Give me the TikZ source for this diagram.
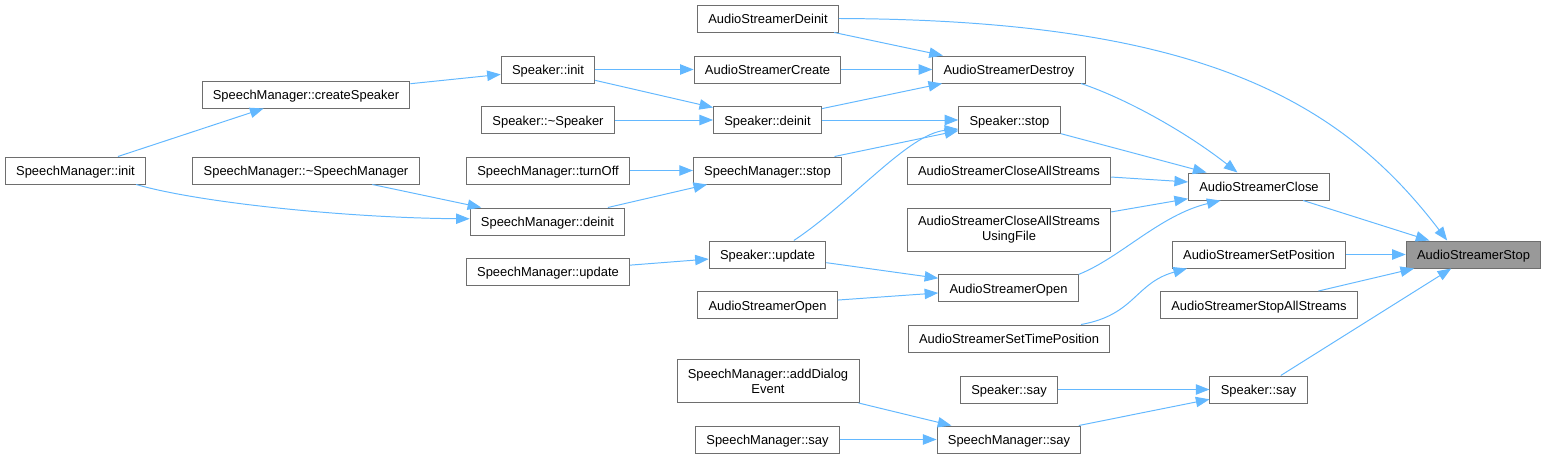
\documentclass[tikz,border=0pt]{standalone}
\usepackage{fontspec}
\setmainfont{Liberation Sans}
\usepackage{xcolor}
\definecolor{callblue}{RGB}{99,184,255}
\definecolor{framegray}{RGB}{110,110,110}
\definecolor{focusgray}{RGB}{153,153,153}
\usepackage{tikz}
\usetikzlibrary{arrows.meta}

\begin{document}
\begin{tikzpicture}[
    x=0.025cm, y=-0.025cm,
    >={Triangle[length=0.34cm, width=0.26cm]},
    font=\fontsize{9.2pt}{10.6pt}\selectfont,
    box/.style={draw=framegray, line width=0.7pt, rectangle, fill=white, minimum height=0.675cm, inner xsep=0.27cm, inner ysep=0.1cm, align=center},
    fn/.style={box, text height=0.93em, text depth=0.214em},
    fnfocus/.style={fn, fill=focusgray},
    fntall/.style={box, minimum height=1.075cm},
    callline/.style={->, draw=callblue, line width=0.7pt}
  ]
  \useasboundingbox (0,0) rectangle (1546,459);

  % Column 1: top level callers
  \node (sminit) at (75.5, 170.5) [fn] {SpeechManager::init};

  % Column 2
  \node (smcreate) at (306, 94.5) [fn] {SpeechManager::createSpeaker};
  \node (smdtor) at (306, 170.5) [fn] {SpeechManager::\textasciitilde SpeechManager};

  % Column 3
  \node (spkinit) at (548, 69.5) [fn] {Speaker::init};
  \node (spkdtor) at (548, 120) [fn] {Speaker::\textasciitilde Speaker};
  \node (smturnoff) at (548, 170.5) [fn] {SpeechManager::turnOff};
  \node (smdeinit) at (547.5, 221.5) [fn] {SpeechManager::deinit};
  \node (smupdate) at (548, 271.5) [fn] {SpeechManager::update};

  % Column 4
  \node (asdeinit) at (768, 18.5) [fn] {AudioStreamerDeinit};
  \node (ascreate) at (767.5, 69.5) [fn] {AudioStreamerCreate};
  \node (spkdeinit) at (767.5, 120) [fn] {Speaker::deinit};
  \node (smstop) at (767.5, 170.5) [fn] {SpeechManager::stop};
  \node (spkupdate) at (767.5, 254.5) [fn] {Speaker::update};
  \node (asopen2) at (767.5, 305) [fn] {AudioStreamerOpen};
  \node (smadddialog) at (768, 381) [fntall] {SpeechManager::addDialog\\Event};
  \node (smsay2) at (767.5, 439.5) [fn] {SpeechManager::say};

  % Column 5
  \node (asdestroy) at (1009, 69.5) [fn] {AudioStreamerDestroy};
  \node (spkstop) at (1009.5, 120) [fn] {Speaker::stop};
  \node (ascloseall) at (1009, 170.5) [fn] {AudioStreamerCloseAllStreams};
  \node (ascloseallfile) at (1009, 229.5) [fntall] {AudioStreamerCloseAllStreams\\UsingFile};
  \node (asopen) at (1008.5, 288) [fn] {AudioStreamerOpen};
  \node (assettime) at (1009, 338.5) [fn] {AudioStreamerSetTimePosition};
  \node (spksay2) at (1009, 389.5) [fn] {Speaker::say};
  \node (smsay) at (1009, 439.5) [fn] {SpeechManager::say};

  % Column 6
  \node (asclose) at (1259, 186.5) [fn] {AudioStreamerClose};
  \node (assetpos) at (1259, 254.5) [fn] {AudioStreamerSetPosition};
  \node (asstopall) at (1259, 305) [fn] {AudioStreamerStopAllStreams};
  \node (spksay) at (1258.5, 389.5) [fn] {Speaker::say};

  % Focus function
  \node (asstop) at (1473.5, 254.5) [fnfocus] {AudioStreamerStop};

  % Call edges, left to right
  \draw[callline] (sminit) -- (smcreate);
  \draw[callline] (sminit.-13) .. controls (200,203) and (350,218) .. (smdeinit.178);
  \draw[callline] (smdtor) -- (smdeinit);
  \draw[callline] (smcreate) -- (spkinit);

  \draw[callline] (spkinit) -- (ascreate);
  \draw[callline] (spkinit) -- (spkdeinit);
  \draw[callline] (spkdtor) -- (spkdeinit);
  \draw[callline] (smturnoff) -- (smstop);
  \draw[callline] (smdeinit) -- (smstop);
  \draw[callline] (smupdate) -- (spkupdate);

  \draw[callline] (asdeinit) -- (asdestroy);
  \draw[callline] (asdeinit.east) .. controls (1200,20) and (1340,100) .. (asstop.152);
  \draw[callline] (ascreate) -- (asdestroy);
  \draw[callline] (spkdeinit) -- (asdestroy);
  \draw[callline] (spkdeinit) -- (spkstop);
  \draw[callline] (smstop) -- (spkstop);
  \draw[callline] (spkupdate.28) .. controls (853,201) and (908,134) .. (spkstop.190);
  \draw[callline] (spkupdate) -- (asopen);
  \draw[callline] (asopen2) -- (asopen);
  \draw[callline] (smadddialog) -- (smsay);
  \draw[callline] (smsay2) -- (smsay);

  \draw[callline] (asdestroy.-11) .. controls (1130,100) and (1190,135) .. (asclose.147);
  \draw[callline] (spkstop) -- (asclose);
  \draw[callline] (ascloseall) -- (asclose);
  \draw[callline] (ascloseallfile) -- (asclose);
  \draw[callline] (asopen.11) .. controls (1120,258) and (1160,215) .. (asclose.200);
  \draw[callline] (assettime.11) .. controls (1135,315) and (1135,283) .. (assetpos.191);
  \draw[callline] (spksay2) -- (spksay);
  \draw[callline] (smsay) -- (spksay);

  \draw[callline] (asclose) -- (asstop);
  \draw[callline] (assetpos) -- (asstop);
  \draw[callline] (asstopall) -- (asstop);
  \draw[callline] (spksay) -- (asstop);

\end{tikzpicture}
\end{document}
